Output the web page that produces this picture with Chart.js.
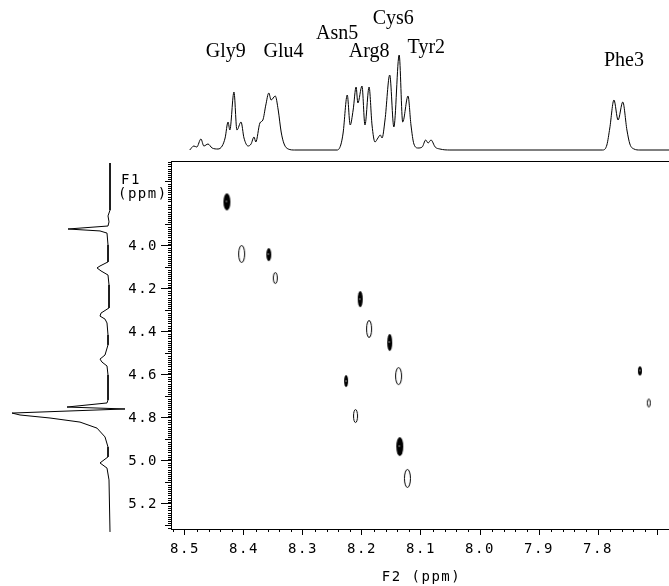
<!DOCTYPE html>
<html><head><meta charset="utf-8">
<script src="https://cdn.jsdelivr.net/npm/chart.js@4/dist/chart.umd.min.js"></script>
<style>
html,body{margin:0;padding:0;background:#fff;overflow:hidden;width:669px;height:586px;}
#wrap{position:relative;width:669px;height:586px;overflow:hidden;background:#fff;}
canvas{position:absolute;display:block;}
#main{left:0;top:0;width:680px;height:586px;}
#top{left:171px;top:0;width:501px;height:161px;}
#side{left:0;top:150px;width:140px;height:390px;}
</style></head><body>
<div id="wrap">
<canvas id="main" width="680" height="586"></canvas>
<canvas id="top" width="501" height="161"></canvas>
<canvas id="side" width="140" height="390"></canvas>
</div>
<script>
// ---------------- DATA ----------------
const xTickValues = [8.5, 8.4, 8.3, 8.2, 8.1, 8.0, 7.9, 7.8, 7.7];
const xTickLabels = ['8.5', '8.4', '8.3', '8.2', '8.1', '8.0', '7.9', '7.8', ''];
const yTickValues = [4.0, 4.2, 4.4, 4.6, 4.8, 5.0, 5.2];
const yTickLabels = ['4.0', '4.2', '4.4', '4.6', '4.8', '5.0', '5.2'];

// cross peaks (F2 = NH ppm, F1 = H-alpha ppm)
const filledF2 = [8.429, 8.358, 8.203, 8.153, 8.227, 8.136, 7.729];
const filledF1 = [3.795, 4.040, 4.247, 4.449, 4.628, 4.933, 4.581];
const openF2 = [8.404, 8.347, 8.188, 8.138, 8.211, 8.123, 7.714];
const openF1 = [4.037, 4.149, 4.386, 4.605, 4.791, 5.081, 4.730];

// 1D projection along F2 (top)
const topPpm = [8.492, 8.485, 8.480, 8.473, 8.468, 8.461, 8.454, 8.444, 8.437, 8.432, 8.427, 8.424, 8.417, 8.412, 8.405, 8.400, 8.393, 8.388, 8.383, 8.380, 8.373, 8.368, 8.363, 8.358, 8.354, 8.347, 8.342, 8.337, 8.332, 8.325, 8.314, 8.242, 8.236, 8.232, 8.225, 8.220, 8.215, 8.210, 8.207, 8.200, 8.195, 8.188, 8.183, 8.178, 8.173, 8.169, 8.166, 8.161, 8.153, 8.146, 8.137, 8.131, 8.122, 8.117, 8.112, 8.105, 8.098, 8.092, 8.088, 8.083, 8.076, 8.068, 8.051, 7.792, 7.785, 7.780, 7.773, 7.766, 7.758, 7.751, 7.746, 7.739, 7.729, 7.678];
const topInt = [0, 4, 3, 11, 4, 6, 2, 1, 4, 12, 28, 20, 58, 20, 28, 12, 4, 6, 13, 8, 27, 30, 45, 57, 50, 54, 40, 18, 6, 1, 0, 0, 5, 17, 55, 25, 40, 63, 47, 64, 25, 63, 25, 8, 12, 15, 12, 30, 75, 23, 95, 28, 54, 25, 6, 2, 3, 10, 7, 10, 3, 1, 0, 0, 5, 22, 50, 30, 48, 20, 6, 1, 0, 0];

// 1D projection along F1 (left)
const sidePpm = [3.614, 3.833, 3.860, 3.888, 3.907, 3.921, 3.930, 3.940, 3.995, 4.074, 4.093, 4.102, 4.116, 4.135, 4.181, 4.288, 4.312, 4.326, 4.340, 4.358, 4.414, 4.460, 4.507, 4.526, 4.540, 4.558, 4.600, 4.716, 4.730, 4.749, 4.758, 4.777, 4.786, 4.800, 4.819, 4.847, 4.888, 4.935, 4.981, 5.009, 5.033, 5.088, 5.330];
const sideInt = [0, 0, 2, 1, 2, 42, 10, 3, 2, 2, 10, 13, 9, 2, 1, 1, 9, 10, 5, 3, 2, 2, 5, 10, 8, 3, 2, 2, 3, 43, -15, 98, 90, 60, 30, 13, 5, 2, 2, 10, 3, 1, 0];

const peakLabels = ['Gly9', 'Glu4', 'Asn5', 'Cys6', 'Arg8', 'Tyr2', 'Phe3'];

// ---------------- STYLE / LAYOUT ----------------
const MONO = '"DejaVu Sans Mono", "Liberation Mono", monospace';
const SERIF = '"Liberation Serif", "DejaVu Serif", serif';
const X_MIN = 7.6746, X_MAX = 8.5237;   // F2 axis range across the frame
const Y_MIN = 3.6047, Y_MAX = 5.3163;   // F1 axis range across the frame
const filledSize = [[7, 17], [5, 13], [5, 16], [5, 17], [4, 12], [7, 19], [4, 9]];
const openSize = [[7, 18], [5, 12], [6, 18], [7, 18], [5, 14], [7, 19], [4, 9]];
const labelStyle = [
  {ppm: 8.431, y: 57}, {ppm: 8.333, y: 57}, {ppm: 8.242, y: 39}, {ppm: 8.147, y: 24},
  {ppm: 8.188, y: 57}, {ppm: 8.091, y: 53}, {ppm: 7.756, y: 66}
];

function ellipseImg(w, h, filled) {
  const c = document.createElement('canvas');
  c.width = w + 2; c.height = h + 2;
  const g = c.getContext('2d');
  g.beginPath();
  if (filled) {
    g.ellipse(c.width / 2, c.height / 2, w / 2, h / 2, 0, 0, Math.PI * 2);
    g.fillStyle = '#000'; g.fill();
    g.fillStyle = '#9a9a9a';
    g.fillRect(Math.floor(c.width / 2) - 0.5, Math.floor(c.height / 2) - 1, 1, 2);
  } else {
    g.ellipse(c.width / 2, c.height / 2, w / 2 - 0.5, h / 2 - 0.5, 0, 0, Math.PI * 2);
    g.strokeStyle = '#000'; g.lineWidth = 1; g.stroke();
  }
  return c;
}
const filledImgs = filledSize.map(s => ellipseImg(s[0], s[1], true));
const openImgs = openSize.map(s => ellipseImg(s[0], s[1], false));

const spacing = {
  id: 'spacing',
  beforeDraw(chart) { chart.ctx.letterSpacing = '1.5px'; }
};

const framePlugin = {
  id: 'frame',
  afterDraw(chart) {
    const ctx = chart.ctx, a = chart.chartArea, xs = chart.scales.x, ys = chart.scales.y;
    ctx.save();
    ctx.strokeStyle = '#000'; ctx.lineWidth = 1;
    ctx.strokeRect(Math.round(a.left) + 0.5, Math.round(a.top) + 0.5, a.right - a.left, a.bottom - a.top);
    ctx.beginPath();
    // minor ticks F2 every 0.02 ppm
    for (let k = 766; k <= 852; k += 2) {
      if (k % 10 === 0) continue;
      const px = Math.round(xs.getPixelForValue(k / 100)) + 0.5;
      ctx.moveTo(px, a.bottom); ctx.lineTo(px, a.bottom + 3);
    }
    // minor ticks F1 every 0.01 ppm
    for (let k = 361; k <= 531; k++) {
      if (k % 20 === 0) continue;
      const len = (k % 10 === 0) ? 6 : 3;
      const py = Math.round(ys.getPixelForValue(k / 100)) + 0.5;
      ctx.moveTo(a.left, py); ctx.lineTo(a.left - len, py);
    }
    ctx.stroke();
    // F1 axis caption
    ctx.fillStyle = '#000';
    ctx.font = '14px ' + MONO;
    ctx.textAlign = 'left'; ctx.textBaseline = 'middle';
    ctx.fillText('F1', 121, 180);
    ctx.fillText('(ppm)', 118, 194);
    ctx.restore();
  }
};

const common = {
  responsive: false, animation: false, events: [],
  plugins: {legend: {display: false}, tooltip: {enabled: false}, title: {display: false}}
};

new Chart(document.getElementById('main'), {
  type: 'scatter',
  data: {
    datasets: [
      {data: filledF2.map((v, i) => ({x: v, y: filledF1[i]})), pointStyle: c => filledImgs[c.dataIndex], pointRadius: 6, borderWidth: 0},
      {data: openF2.map((v, i) => ({x: v, y: openF1[i]})), pointStyle: c => openImgs[c.dataIndex], pointRadius: 6, borderWidth: 0}
    ]
  },
  options: Object.assign({}, common, {
    layout: {padding: {top: 161, right: 8, left: 0, bottom: 0}},
    scales: {
      x: {
        type: 'linear', position: 'bottom', reverse: true, min: X_MIN, max: X_MAX,
        afterFit: s => { s.height = 57; },
        afterBuildTicks: s => { s.ticks = xTickValues.map(v => ({value: v})); },
        ticks: {autoSkip: false, maxRotation: 0, minRotation: 0, padding: 6, color: '#000',
          font: {family: MONO, size: 14}, callback: (v, i) => xTickLabels[i]},
        grid: {drawOnChartArea: false, drawTicks: true, tickLength: 6, color: '#000', lineWidth: 1},
        border: {display: true, color: '#000', width: 1},
        title: {display: true, text: 'F2 (ppm)', color: '#000', font: {family: MONO, size: 14}, padding: {top: 0, bottom: 0}}
      },
      y: {
        type: 'linear', position: 'left', reverse: true, min: Y_MIN, max: Y_MAX,
        afterFit: s => { s.width = 171; },
        afterBuildTicks: s => { s.ticks = yTickValues.map(v => ({value: v})); },
        ticks: {autoSkip: false, padding: 3, color: '#000', font: {family: MONO, size: 14},
          callback: (v, i) => yTickLabels[i]},
        grid: {drawOnChartArea: false, drawTicks: true, tickLength: 10, color: '#000', lineWidth: 1},
        border: {display: true, color: '#000', width: 1}
      }
    }
  }),
  plugins: [spacing, framePlugin]
});

const labelPlugin = {
  id: 'peakLabels',
  afterDraw(chart) {
    const ctx = chart.ctx, xs = chart.scales.x;
    ctx.save();
    ctx.fillStyle = '#000';
    ctx.font = '20px ' + SERIF;
    ctx.textAlign = 'center'; ctx.textBaseline = 'alphabetic';
    peakLabels.forEach((t, i) => {
      const st = labelStyle[i];
      ctx.fillText(t, xs.getPixelForValue(st.ppm) - chart.chartArea.left + chart.chartArea.left, st.y);
    });
    ctx.restore();
  }
};

new Chart(document.getElementById('top'), {
  type: 'scatter',
  data: {datasets: [{
    data: topPpm.map((v, i) => ({x: v, y: topInt[i]})),
    showLine: true, borderColor: '#000', borderWidth: 1, pointRadius: 0,
    cubicInterpolationMode: 'monotone', clip: false
  }]},
  options: Object.assign({}, common, {
    layout: {padding: 0},
    scales: {
      x: {type: 'linear', display: false, reverse: true, min: X_MIN, max: X_MAX},
      y: {type: 'linear', display: false, min: -11, max: 150}
    }
  }),
  plugins: [labelPlugin]
});

new Chart(document.getElementById('side'), {
  type: 'scatter',
  data: {datasets: [{
    data: sidePpm.map((v, i) => ({x: sideInt[i], y: v})),
    showLine: true, borderColor: '#000', borderWidth: 1, pointRadius: 0,
    tension: 0, clip: false
  }]},
  options: Object.assign({}, common, {
    layout: {padding: 0},
    scales: {
      x: {type: 'linear', display: false, reverse: true, min: -30, max: 110},
      y: {type: 'linear', display: false, reverse: true, min: 3.5535, max: 5.3674}
    }
  })
});
</script>
</body></html>
